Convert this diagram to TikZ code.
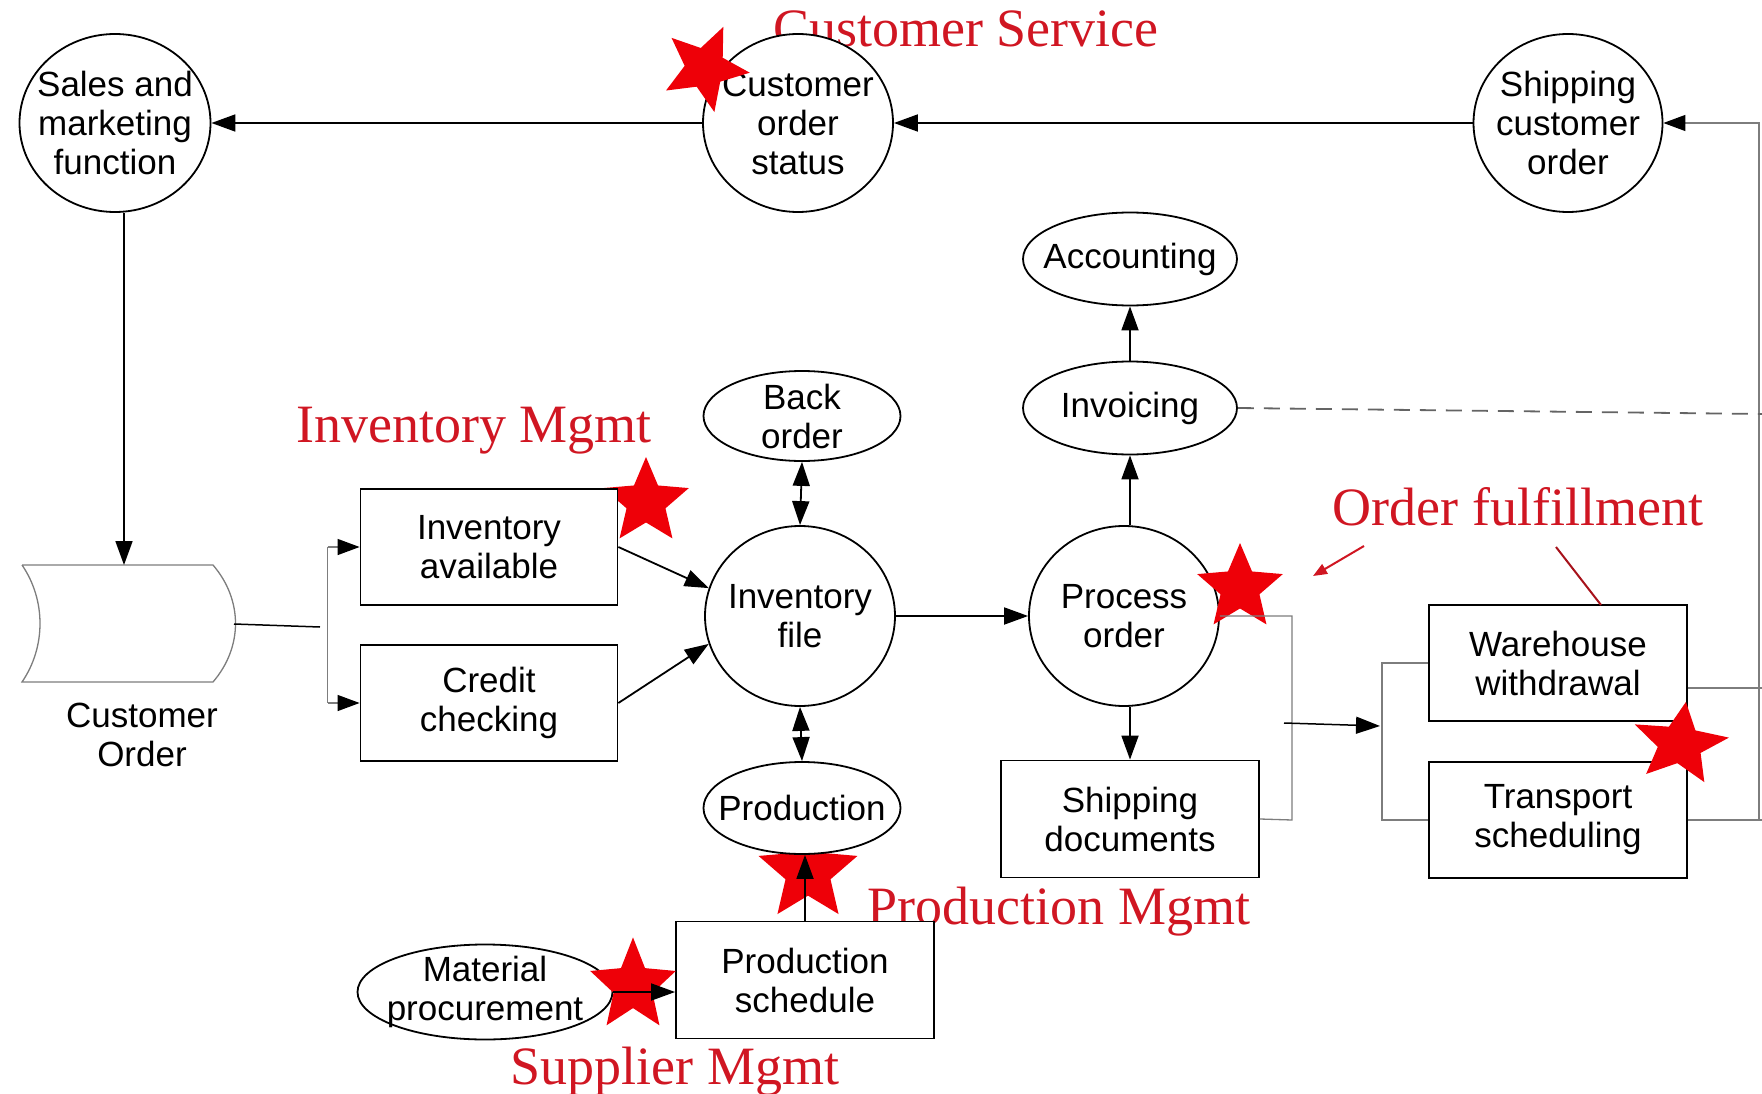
\documentclass[tikz,border=0pt]{standalone}
\usepackage{fontspec}
\setmainfont{Liberation Sans}
\newfontfamily\tagfont{Liberation Serif}
\usetikzlibrary{shapes.geometric,arrows.meta,calc}

\definecolor{lblred}{RGB}{208,22,34}
\definecolor{starred}{RGB}{238,0,8}
\definecolor{linkgray}{RGB}{125,125,125}

\tikzset{
  base/.style={font=\fontsize{35}{39}\selectfont, text=black},
  bubble/.style={draw, ellipse, line width=1.8pt, fill=white, inner sep=0pt},
  taskbox/.style={draw, rectangle, line width=1.8pt, fill=white, inner sep=0pt,
    minimum width=257pt, minimum height=116pt, align=center, base},
  tag/.style={text=lblred, font=\tagfont\fontsize{54}{60}\selectfont, anchor=base},
  mark5/.style={star, star points=5, star point ratio=2.2, fill=starred,
    draw=none, inner sep=0pt, minimum size=#1},
  flow/.style={line width=1.8pt, -{Triangle[length=24pt,width=17pt]}},
  both/.style={line width=1.8pt, {Triangle[length=24pt,width=17pt]}-{Triangle[length=24pt,width=17pt]}},
  link/.style={line width=1.3pt, draw=linkgray},
  feed/.style={line width=1.3pt, draw=linkgray, -{Triangle[length=22pt,width=16pt,color=black]}},
}

\begin{document}
\begin{tikzpicture}[x=1pt, y=-1pt]
\useasboundingbox (0,0) rectangle (1762,1094);

% area labels
\node[tag] (tcs) at (966,47) {Customer Service};
\node[tag] (tim) at (474,442) {Inventory Mgmt};
\node[tag] (tof) at (1518,525) {Order fulfillment};
\node[tag] (tpm) at (1059,924) {Production Mgmt};
\node[tag] (tsm) at (675,1084) {Supplier Mgmt};

% stars lying under the shapes
\node[mark5=90pt] (s-inv) at (646,502) {};
\node[mark5=104pt] (s-prod) at (808,872) {};

% customer order data store
\coordinate (co-tl) at (22,565);
\coordinate (co-tr) at (213,565);
\coordinate (co-br) at (213,682);
\coordinate (co-bl) at (22,682);
\coordinate (co-top) at (124,565);
\coordinate (co-east) at (234,624);
\draw[link, fill=white] (co-tl) -- (co-tr)
  .. controls (243,600) and (243,647) .. (co-br) -- (co-bl)
  .. controls (46,647) and (46,600) .. (co-tl);
\node[base, align=center] (colabel) at (142,735) {Customer\\Order};

% processes drawn as ellipses
\node[bubble, minimum width=191pt, minimum height=178pt,
  label={[base,align=center]center:Sales and\\marketing\\function}] (sales) at (115,123) {};
\node[bubble, minimum width=190pt, minimum height=178pt,
  label={[base,align=center]center:Customer\\order\\status}] (custstat) at (798,123) {};
\node[bubble, minimum width=189pt, minimum height=178pt,
  label={[base,align=center]center:Shipping\\customer\\order}] (shipcust) at (1568,123) {};
\node[bubble, minimum width=214pt, minimum height=93pt,
  label={[base]center:Accounting}] (acct) at (1130,259) {};
\node[bubble, minimum width=214pt, minimum height=93pt,
  label={[base]center:Invoicing}] (inv) at (1130,408) {};
\node[bubble, minimum width=197pt, minimum height=90pt,
  label={[base,align=center]center:Back\\order}] (backorder) at (802,416) {};
\node[bubble, minimum width=190pt, minimum height=180pt,
  label={[base,align=center]center:Inventory\\file}] (invfile) at (800,616) {};
\node[bubble, minimum width=190pt, minimum height=180pt,
  label={[base,align=center]center:Process\\order}] (procorder) at (1124,616) {};
\node[bubble, minimum width=197pt, minimum height=92pt,
  label={[base]center:Production}] (production) at (802,808) {};
\node[bubble, minimum width=255pt, minimum height=95pt,
  label={[base,align=center]center:Material\\procurement}] (matproc) at (485,992) {};

% tasks drawn as boxes
\node[taskbox] (invavail) at (489,547) {Inventory\\available};
\node[taskbox] (credit) at (489,703) {Credit\\checking};
\node[taskbox, minimum width=258pt, minimum height=117pt] (shipdocs) at (1130,819) {Shipping\\documents};
\node[taskbox, minimum width=258pt, minimum height=117pt] (prodsched) at (805,980) {Production\\schedule};
\node[taskbox, minimum width=258pt] (wh) at (1558,663) {Warehouse\\withdrawal};
\node[taskbox, minimum width=258pt] (tr) at (1558,820) {Transport\\scheduling};

% stars lying over the shapes
\node[mark5=90pt, rotate=-24] (s-cs) at (705,68) {};
\node[mark5=90pt] (s-po) at (1240,588) {};
\node[mark5=100pt, rotate=-8, yscale=0.85] (s-wh) at (1680,744) {};
\node[mark5=90pt, yscale=1.08] (s-sup) at (633,986) {};

% helper points
\coordinate (rt) at (1759,123);
\coordinate (rb) at (1759,820);
\coordinate (jn) at (320,627);
\coordinate (b1) at ($(invavail.west)+(-32,0)$);
\coordinate (b2) at ($(credit.west)+(-32,0)$);
\coordinate (pk1) at (1292,616);
\coordinate (pk2) at (1292,820);
\coordinate (ar1) at (1284,723);
\coordinate (ar2) at (1380,726);
\coordinate (wk1) at (1382,663);
\coordinate (wk2) at (1382,820);
\coordinate (we) at (1762,688);
\coordinate (te) at (1762,820);
\coordinate (de) at (1762,414);
\coordinate (ra1) at (1364,546);
\coordinate (ra2) at (1313,576);
\coordinate (rl1) at (1556,547);
\coordinate (rl2) at (1601,605);

% customer service loop
\draw[flow] (custstat) -- (sales);
\draw[flow] (shipcust) -- (custstat);
\draw[feed] (rb) -- (rt) -- (shipcust);
\draw[flow] (sales.south -| co-top) -- (co-top);

% order entry
\draw[line width=1.5pt] (co-east) -- (jn);
\draw[link] (b1) -- (b2);
\draw[feed] (b1) -- (invavail.west);
\draw[feed] (b2) -- (credit.west);
\draw[flow] (invavail.east) -- (invfile.163);
\draw[flow] (credit.east) -- (invfile.197);
\draw[both] (backorder.south) -- (invfile.north);
\draw[both] (invfile.south) -- (production.north);
\draw[flow] (prodsched.north) -- (prodsched.north |- production.south);
\draw[flow] (matproc.east) -- (matproc.east -| prodsched.west);

% order processing
\draw[flow] (invfile.east) -- (procorder.west);
\draw[flow] (procorder.north -| inv.south) -- (inv.south);
\draw[flow] (inv.north) -- (acct.south);
\draw[flow] (procorder.south -| shipdocs.north) -- (shipdocs.north);
\draw[line width=1.8pt, draw=linkgray!80!black, dash pattern=on 16pt off 10pt] (inv.east) -- (de);

% fulfillment
\draw[link] (procorder.east) -- (pk1) -- (pk2) -- (shipdocs.east);
\draw[flow, line width=1.5pt] (ar1) -- (ar2);
\draw[link] (wh.west) -- (wk1) -- (wk2) -- (tr.west);
\draw[link] ($(wh.east)+(0,25)$) -- (we);
\draw[link] (tr.east) -- (te);

% pointers from the fulfillment label
\draw[lblred, line width=2pt, -{Triangle[length=14pt,width=11pt]}] (ra1) -- (ra2);
\draw[lblred!80!black, line width=2pt] (rl1) -- (rl2);
\end{tikzpicture}
\end{document}
